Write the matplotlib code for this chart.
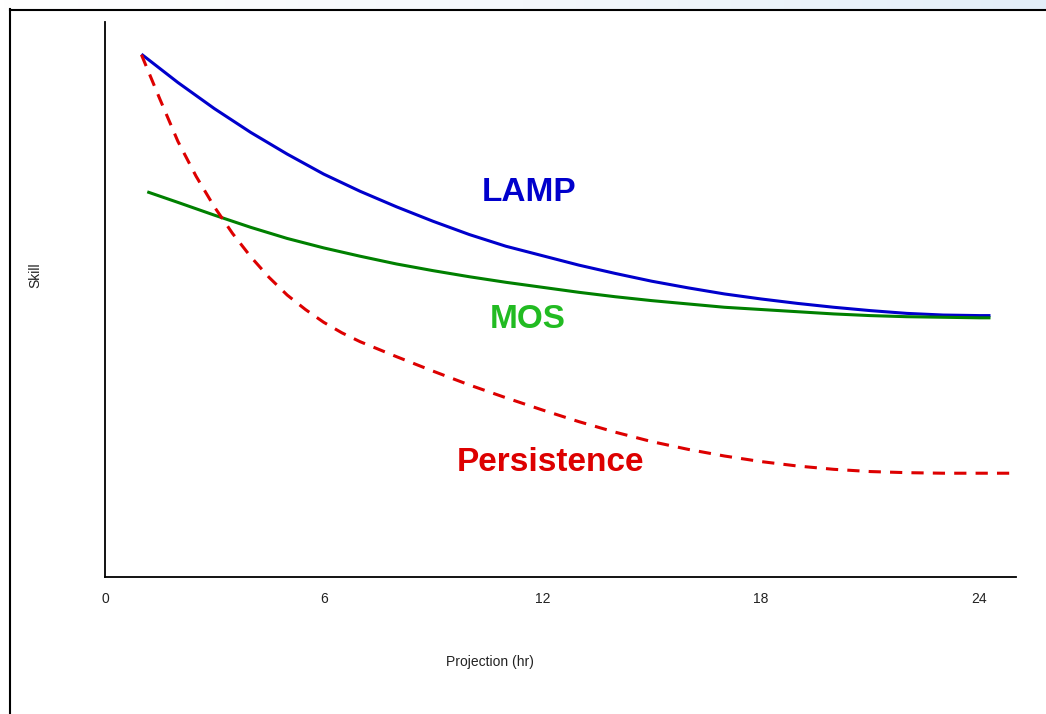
import matplotlib
matplotlib.use("Agg")
import matplotlib.pyplot as plt
import numpy as np
from matplotlib.lines import Line2D

plt.rcParams["font.family"] = ["Liberation Sans", "DejaVu Sans"]

# projection hour vs. (unitless) skill
LAMP_HR = [1, 2, 3, 4, 5, 6, 7, 8, 9, 10, 11, 12, 13, 14, 15, 16, 17, 18,
           19, 20, 21, 22, 23, 24, 24.3]
LAMP_SKILL = [0.942, 0.891, 0.844, 0.801, 0.762, 0.726, 0.695, 0.667, 0.641,
              0.617, 0.596, 0.579, 0.562, 0.547, 0.533, 0.521, 0.510, 0.501,
              0.493, 0.486, 0.480, 0.475, 0.472, 0.471, 0.471]

MOS_HR = [1.16, 2, 3, 4, 5, 6, 7, 8, 9, 10, 11, 12, 13, 14, 15, 16, 17, 18,
          19, 20, 21, 22, 23, 24, 24.3]
MOS_SKILL = [0.694, 0.675, 0.652, 0.630, 0.610, 0.593, 0.578, 0.564, 0.552,
             0.541, 0.531, 0.522, 0.513, 0.505, 0.498, 0.492, 0.486, 0.482,
             0.478, 0.474, 0.471, 0.469, 0.468, 0.467, 0.467]

PERS_HR = [1, 1.5, 2, 2.5, 3, 3.5, 4, 4.5, 5, 5.5, 6, 6.5, 7, 8, 9, 10, 11,
           12, 13, 14, 15, 16, 17, 18, 19, 20, 21, 22, 23, 24, 25]
PERS_SKILL = [0.941, 0.862, 0.785, 0.722, 0.667, 0.619, 0.577, 0.540, 0.508,
              0.482, 0.459, 0.440, 0.424, 0.397, 0.371, 0.346, 0.323, 0.301,
              0.280, 0.261, 0.244, 0.230, 0.218, 0.208, 0.200, 0.194, 0.190,
              0.188, 0.187, 0.187, 0.187]

XTICKS = [0, 6, 12, 18, 24]

W, H = 1046, 714
fig = plt.figure(figsize=(W / 100, H / 100), dpi=100)

# faint blue strip above the frame
strip = fig.add_axes([0, 1 - 9 / H, 1, 9 / H])
grad = np.linspace(0, 1, 256)[None, :]
strip.imshow(grad, aspect="auto", cmap=matplotlib.colors.LinearSegmentedColormap.from_list(
    "s", ["#ffffff", "#f4f8fc", "#e3eef8"]), extent=[0, 1, 0, 1])
strip.axis("off")

# frame lines (left + top)
fig.add_artist(Line2D([9.5 / W, 9.5 / W], [0, 1 - 9 / H], color="black", lw=1.5,
                      transform=fig.transFigure))
fig.add_artist(Line2D([9.5 / W, 1], [1 - 9.5 / H, 1 - 9.5 / H], color="black", lw=1.5,
                      transform=fig.transFigure))

ax = fig.add_axes([105 / W, (H - 577) / H, (1016 - 105) / W, (577 - 22) / H])
ax.plot(LAMP_HR, LAMP_SKILL, color="#0000cc", lw=2.2, solid_capstyle="butt",
        solid_joinstyle="round")
ax.plot(MOS_HR, MOS_SKILL, color="#008000", lw=2.2, solid_capstyle="butt",
        solid_joinstyle="round")
ax.plot(PERS_HR, PERS_SKILL, color="#dd0000", lw=2.2, dashes=(4, 3))

ax.text(11.63, 0.677, "LAMP", color="#0000cc", fontsize=24, fontweight="bold",
        ha="center", va="baseline")
ax.text(11.60, 0.448, "MOS", color="#22bb22", fontsize=24, fontweight="bold",
        ha="center", va="baseline")
ax.text(12.23, 0.1915, "Persistence", color="#dd0000", fontsize=24,
        fontweight="bold", ha="center", va="baseline")

ax.set_xlim(0, 25)
ax.set_ylim(0, 1)
ax.set_xticks(XTICKS)
ax.set_xticklabels([str(t) for t in XTICKS])
ax.set_yticks([])
ax.tick_params(axis="x", length=0, pad=11, labelsize=10, labelcolor="#222222")
for s in ("top", "right"):
    ax.spines[s].set_visible(False)
for s in ("left", "bottom"):
    ax.spines[s].set_linewidth(1.3)
    ax.spines[s].set_color("black")

fig.text(490 / W, 1 - 662 / H, "Projection (hr)", ha="center", va="center",
         fontsize=10, color="#222222")
fig.text(35 / W, 1 - 275 / H, "Skill", ha="center", va="center", rotation=90,
         fontsize=10, color="#222222")

fig.savefig("out.png", dpi=100)
